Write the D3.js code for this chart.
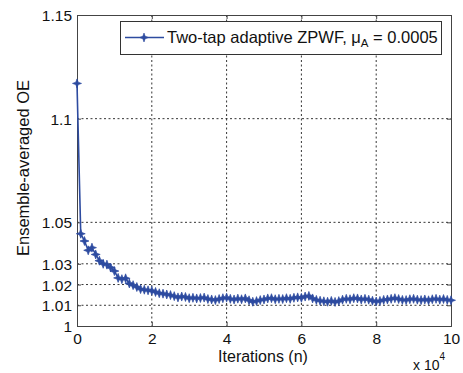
<!DOCTYPE html>
<html><head><meta charset="utf-8">
<script src="https://cdn.jsdelivr.net/npm/d3@7"></script>
<style>body{margin:0;background:#fff}svg{display:block;font-family:"Liberation Sans",Arial,sans-serif}</style>
</head><body><svg id="c" width="463" height="373"></svg>
<script>
// iterations in units of 10^4
const iterations = d3.range(0, 101).map(i => i / 10);
const oeValues = [
1.117,1.0445,1.0410,1.0365,1.0378,1.0345,1.0315,1.0300,1.0296,1.0282,
1.0265,1.0232,1.0226,1.0230,1.0205,1.0197,1.0188,1.0178,1.0175,1.0172,
1.0170,1.0164,1.0158,1.0156,1.0152,1.0149,1.0144,1.0138,1.0142,1.0140,
1.0134,1.0136,1.0133,1.0135,1.0137,1.0130,1.0128,1.0125,1.0130,1.0134,
1.0137,1.0131,1.0128,1.0132,1.0129,1.0133,1.0124,1.0117,1.0120,1.0125,
1.0128,1.0133,1.0134,1.0129,1.0131,1.0130,1.0134,1.0131,1.0136,1.0138,
1.0136,1.0142,1.0145,1.0133,1.0126,1.0122,1.0119,1.0117,1.0121,1.0116,
1.0120,1.0127,1.0131,1.0129,1.0134,1.0133,1.0128,1.0131,1.0127,1.0122,
1.0118,1.0121,1.0126,1.0128,1.0131,1.0134,1.0130,1.0126,1.0125,1.0129,
1.0131,1.0127,1.0125,1.0128,1.0124,1.0129,1.0131,1.0127,1.0130,1.0126,
1.0124];
const xTicks = [0,2,4,6,8,10];
const yTicks = [1,1.01,1.02,1.03,1.05,1.1,1.15];
const yTickLabels = ["1","1.01","1.02","1.03","1.05","1.1","1.15"];
const legendLabel = "Two-tap adaptive ZPWF, ";

const svg = d3.select("#c");
const L = 77, R = 451, T = 15, B = 326;
const x = d3.scaleLinear().domain([0,10]).range([L,R]);
const y = d3.scaleLinear().domain([1,1.15]).range([B,T]);
const blue = "#2D4BA0";
const FONT = "Liberation Sans, Arial, sans-serif";

// grid
const g = svg.append("g");
g.selectAll(".vg").data(xTicks.slice(1,-1)).join("line")
  .attr("x1",d=>x(d)).attr("x2",d=>x(d)).attr("y1",T).attr("y2",B)
  .attr("stroke","#000").attr("stroke-width",0.8).attr("stroke-dasharray","2,2.5");
g.selectAll(".hg").data(yTicks.slice(1,-1)).join("line")
  .attr("y1",d=>y(d)).attr("y2",d=>y(d)).attr("x1",L).attr("x2",R)
  .attr("stroke","#000").attr("stroke-width",0.8).attr("stroke-dasharray","2,2.5");

// axes
const xa = svg.append("g").attr("transform",`translate(0,${B})`)
  .call(d3.axisBottom(x).tickValues(xTicks).tickSize(-4).tickFormat(d3.format("d")));
xa.selectAll("text").attr("y",18).attr("dy",null);
const xt = svg.append("g").attr("transform",`translate(0,${T})`)
  .call(d3.axisTop(x).tickValues(xTicks).tickSize(-4).tickFormat(""));
const ya = svg.append("g").attr("transform",`translate(${L},0)`)
  .call(d3.axisLeft(y).tickValues(yTicks).tickSize(-4).tickPadding(5).tickFormat((d,i)=>yTickLabels[i]));
const yr = svg.append("g").attr("transform",`translate(${R},0)`)
  .call(d3.axisRight(y).tickValues(yTicks).tickSize(-4).tickFormat(""));
[xa,xt,ya,yr].forEach(a=>{
  a.selectAll("path").attr("stroke","#444").attr("stroke-width",1);
  a.selectAll("line").attr("stroke","#444");
  a.selectAll("text").attr("fill","#111").style("font-size","15.5px").style("font-family",FONT);
});
ya.selectAll("text").attr("dy","0.36em");

// data
const pts = iterations.map((d,i)=>[d,oeValues[i]]);
svg.append("path").datum(pts)
  .attr("d", d3.line().x(d=>x(d[0])).y(d=>y(d[1])))
  .attr("fill","none").attr("stroke",blue).attr("stroke-width",1.6);
const star = "M0,-4.5L1.2,-1.2L4.5,0L1.2,1.2L0,4.5L-1.2,1.2L-4.5,0L-1.2,-1.2Z";
svg.append("g").selectAll("path").data(pts).join("path")
  .attr("transform",d=>`translate(${x(d[0])},${y(d[1])})`)
  .attr("d",star).attr("fill",blue).attr("stroke",blue).attr("stroke-width",0.7);

// legend
const lg = svg.append("g");
lg.append("rect").attr("x",120.5).attr("y",21.5).attr("width",321).attr("height",33)
  .attr("fill","#fff").attr("stroke","#333").attr("stroke-width",1);
lg.append("line").attr("x1",125).attr("x2",164).attr("y1",37.5).attr("y2",37.5)
  .attr("stroke",blue).attr("stroke-width",1.6);
lg.append("path").attr("transform","translate(144,37.5)").attr("d",star).attr("fill",blue).attr("stroke",blue).attr("stroke-width",0.6);
const lt = lg.append("text").attr("x",167).attr("y",43).style("font-size","16.5px").attr("fill","#111");
lt.append("tspan").text(legendLabel);
lt.append("tspan").text("μ");
lt.append("tspan").attr("dy",4).style("font-size","11.5px").text("A");
lt.append("tspan").attr("dy",-4).text(" = 0.0005");

// axis labels
svg.append("text").attr("x",263).attr("y",362).attr("text-anchor","middle")
  .style("font-size","16px").attr("fill","#111").text("Iterations (n)");
svg.append("text").attr("transform","translate(29,168) rotate(-90)").attr("text-anchor","middle")
  .style("font-size","16.5px").attr("fill","#111").text("Ensemble-averaged OE");
const mult = svg.append("text").attr("x",413).attr("y",370).style("font-size","14px").attr("fill","#111");
mult.append("tspan").text("x 10");
mult.append("tspan").attr("dy",-10).style("font-size","10px").text("4");
</script></body></html>
